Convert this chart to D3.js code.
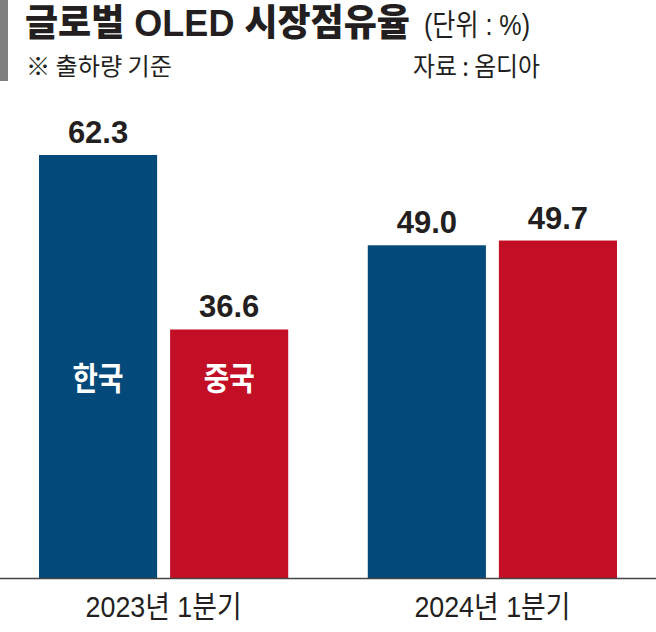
<!DOCTYPE html>
<html><head><meta charset="utf-8">
<script src="https://cdn.jsdelivr.net/npm/d3@7"></script>
<style>body{margin:0;background:#fff}svg{display:block}</style>
</head><body>
<script>
const categories = ["2023년 1분기", "2024년 1분기"];
const seriesNames = ["한국", "중국"];
const korea = [62.3, 49.0];
const china = [36.6, 49.7];
const valueLabels = [["62.3", "36.6"], ["49.0", "49.7"]];
const title = "글로벌 OLED 시장점유율";
const unit = "(단위 : %)";
const note = "※ 출하량 기준";
const source = "자료 : 옴디아";

const W = 656, H = 632;
const colors = {"한국": "#03497a", "중국": "#c20f25"};
const ink = "#231f20";
const kfont = "'Noto Sans CJK KR', 'Noto Sans', sans-serif";
const tfont = "'Liberation Sans', 'Noto Sans CJK KR', sans-serif";
const nfont = "'Liberation Sans', Arial, sans-serif";

const data = categories.map((c, i) => ({
  cat: c,
  vals: [{s: "한국", v: korea[i], lab: valueLabels[i][0]}, {s: "중국", v: china[i], lab: valueLabels[i][1]}]
}));

const svg = d3.select("body").append("svg").attr("width", W).attr("height", H);

const x0 = d3.scaleBand().domain(categories).range([39, 617]).paddingInner(0.242);
const x1 = d3.scaleBand().domain(seriesNames).range([0, x0.bandwidth()]).paddingInner(0.099);
const y = d3.scaleLinear().domain([0, 70]).range([578, 578 - 70 * 6.79]);

// header
svg.append("rect").attr("x", 0).attr("y", 0).attr("width", 8).attr("height", 81).attr("fill", "#7f7f7f");
svg.append("text").attr("x", 25).attr("y", 36).attr("font-family", tfont).attr("font-weight", 900)
  .attr("font-size", 37).attr("fill", ink).attr("textLength", 385).attr("lengthAdjust", "spacingAndGlyphs").text(title);
svg.append("text").attr("x", 424).attr("y", 35).attr("font-family", tfont).attr("font-weight", 400)
  .attr("font-size", 30).attr("fill", ink).attr("textLength", 106).attr("lengthAdjust", "spacingAndGlyphs").text(unit);
svg.append("text").attr("x", 26).attr("y", 75).attr("font-family", kfont)
  .attr("font-size", 24).attr("fill", ink).attr("textLength", 146).attr("lengthAdjust", "spacingAndGlyphs").text(note);
svg.append("text").attr("x", 413).attr("y", 76).attr("font-family", kfont)
  .attr("font-size", 26).attr("fill", ink).attr("textLength", 127).attr("lengthAdjust", "spacingAndGlyphs").text(source);

// bars
const g = svg.selectAll("g.grp").data(data).join("g").attr("class", "grp")
  .attr("transform", d => `translate(${x0(d.cat)},0)`);

g.selectAll("rect").data(d => d.vals).join("rect")
  .attr("x", d => x1(d.s)).attr("width", x1.bandwidth())
  .attr("y", d => y(d.v)).attr("height", d => y(0) - y(d.v))
  .attr("fill", d => colors[d.s]);

g.selectAll("text.val").data(d => d.vals).join("text").attr("class", "val")
  .attr("x", d => x1(d.s) + x1.bandwidth() / 2).attr("y", d => y(d.v) - 12)
  .attr("text-anchor", "middle").attr("font-family", nfont).attr("font-weight", 700)
  .attr("font-size", 31).attr("fill", ink).text(d => d.lab);

// series names inside first group
svg.append("g").attr("transform", `translate(${x0(categories[0])},0)`)
  .selectAll("text").data(seriesNames).join("text")
  .attr("x", d => x1(d) + x1.bandwidth() / 2).attr("y", 390)
  .attr("text-anchor", "middle").attr("font-family", kfont).attr("font-weight", 700)
  .attr("font-size", 32).attr("fill", "#fff")
  .attr("textLength", 51).attr("lengthAdjust", "spacingAndGlyphs").text(d => d);

// axis
svg.append("line").attr("x1", 0).attr("x2", W).attr("y1", y(0) + 0.5).attr("y2", y(0) + 0.5)
  .attr("stroke", "#444").attr("stroke-width", 1.5);

svg.selectAll("text.cat").data(categories).join("text").attr("class", "cat")
  .attr("x", d => x0(d) + x0.bandwidth() / 2).attr("y", 617)
  .attr("text-anchor", "middle").attr("font-family", tfont).attr("font-weight", 400)
  .attr("font-size", 30).attr("fill", ink)
  .attr("textLength", 156).attr("lengthAdjust", "spacingAndGlyphs").text(d => d);
</script>
</body></html>
